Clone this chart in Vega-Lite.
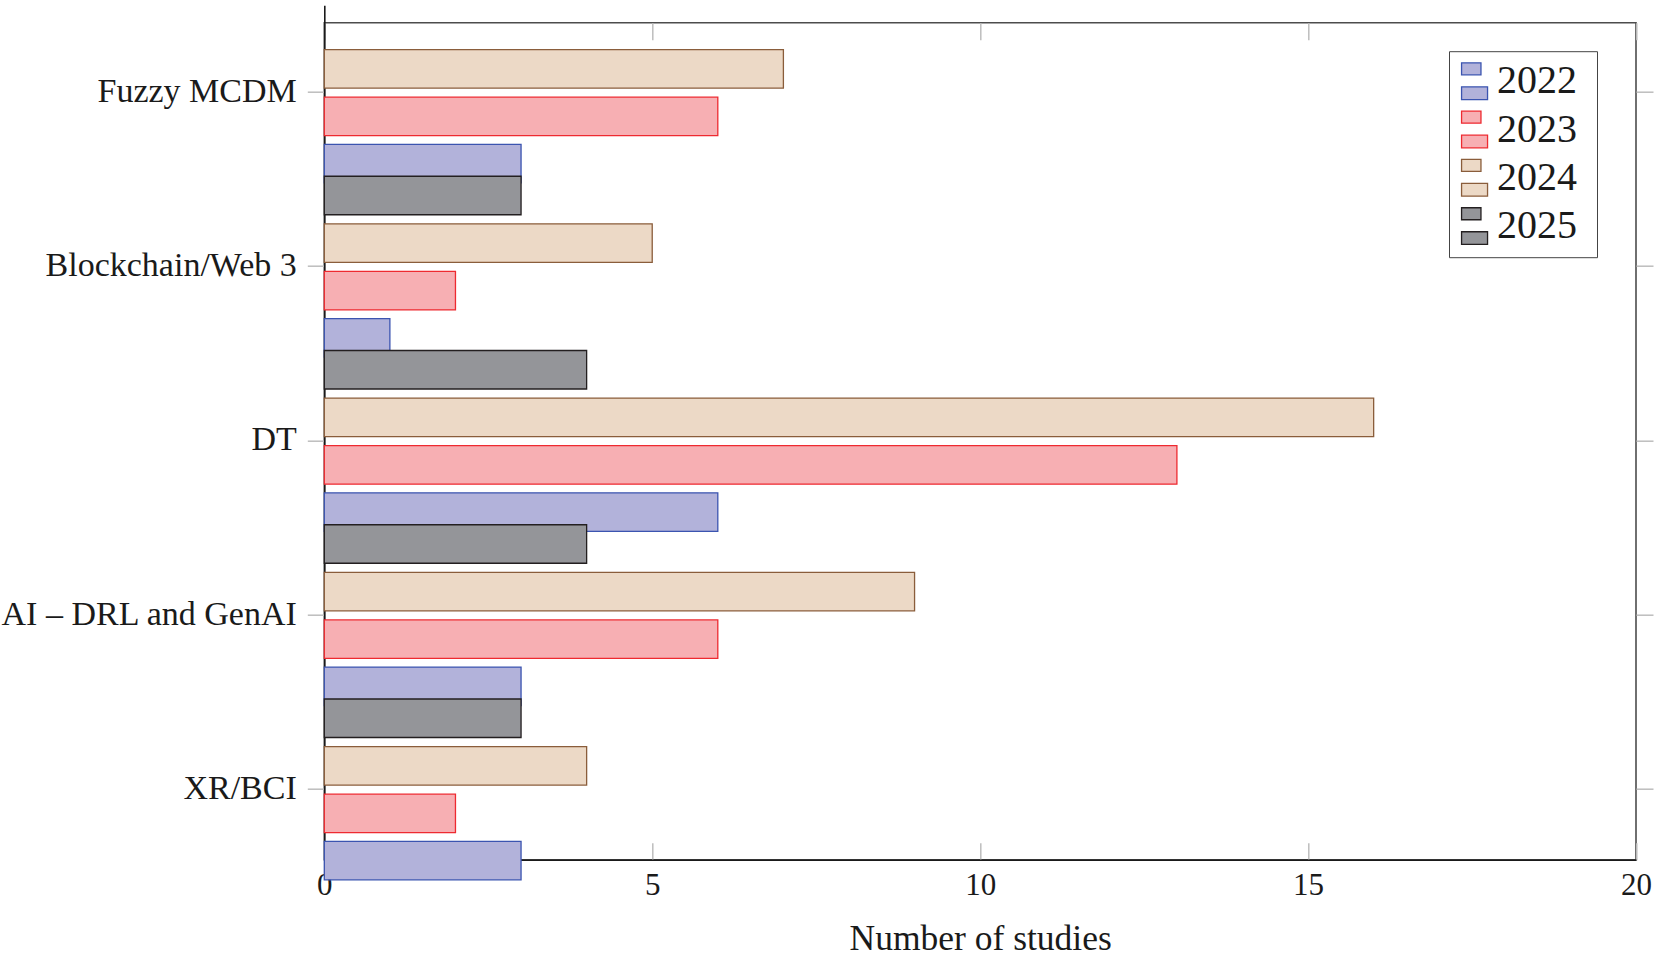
{
  "$schema": "https://vega.github.io/schema/vega-lite/v6.json",
  "width": 1311.7,
  "height": 837,
  "autosize": "none",
  "padding": {"left": 324.3, "top": 22.7, "right": 19, "bottom": 97.3},
  "background": "white",
  "config": {
    "font": "Liberation Serif",
    "view": {"stroke": "#4d4d4d", "strokeWidth": 1.6},
    "axis": {
      "labelFont": "Liberation Serif",
      "titleFont": "Liberation Serif",
      "labelColor": "#1a1a1a",
      "titleColor": "#1a1a1a",
      "grid": false,
      "tickColor": "#bdbdbd",
      "tickWidth": 1.5,
      "domainColor": "#1a1a1a",
      "domainWidth": 1.6
    },
    "legend": {
      "orient": "none",
      "legendX": 1124.7,
      "legendY": 28.5,
      "labelFont": "Liberation Serif",
      "labelFontSize": 40,
      "labelColor": "#1a1a1a",
      "symbolType": "M-0.95,-1H0.107V-0.346H-0.95Z M-0.95,0.308H0.466V1H-0.95Z",
      "symbolSize": 1347,
      "symbolStrokeWidth": 1.3,
      "labelOffset": -2,
      "rowPadding": 6.3,
      "padding": 10,
      "strokeColor": "#444444",
      "fillColor": "white"
    }
  },
  "datasets": {
    "studies": [
      {"topic": "Fuzzy MCDM", "year": 2022, "studies": 3},
      {"topic": "Blockchain/Web 3", "year": 2022, "studies": 1},
      {"topic": "DT", "year": 2022, "studies": 6},
      {"topic": "AI – DRL and GenAI", "year": 2022, "studies": 3},
      {"topic": "XR/BCI", "year": 2022, "studies": 3},
      {"topic": "Fuzzy MCDM", "year": 2023, "studies": 6},
      {"topic": "Blockchain/Web 3", "year": 2023, "studies": 2},
      {"topic": "DT", "year": 2023, "studies": 13},
      {"topic": "AI – DRL and GenAI", "year": 2023, "studies": 6},
      {"topic": "XR/BCI", "year": 2023, "studies": 2},
      {"topic": "Fuzzy MCDM", "year": 2024, "studies": 7},
      {"topic": "Blockchain/Web 3", "year": 2024, "studies": 5},
      {"topic": "DT", "year": 2024, "studies": 16},
      {"topic": "AI – DRL and GenAI", "year": 2024, "studies": 9},
      {"topic": "XR/BCI", "year": 2024, "studies": 4},
      {"topic": "Fuzzy MCDM", "year": 2025, "studies": 3},
      {"topic": "Blockchain/Web 3", "year": 2025, "studies": 4},
      {"topic": "DT", "year": 2025, "studies": 4},
      {"topic": "AI – DRL and GenAI", "year": 2025, "studies": 3}
    ]
  },
  "layer": [
    {
      "data": {"name": "studies"},
      "mark": {"type": "bar", "height": 38.5, "strokeWidth": 1.3, "opacity": 1},
      "encoding": {
        "y": {
          "field": "topic",
          "type": "nominal",
          "scale": {
            "domain": ["Fuzzy MCDM", "Blockchain/Web 3", "DT", "AI – DRL and GenAI", "XR/BCI"],
            "range": [-17.5, 853.75],
            "paddingInner": 0,
            "paddingOuter": 0
          },
          "axis": {
            "orient": "left",
            "title": null,
            "labelFontSize": 34,
            "labelLimit": 400,
            "labelPadding": 11,
            "labelOffset": -0.5,
            "tickSize": 17,
            "domain": true
          }
        },
        "yOffset": {
          "field": "year",
          "type": "quantitative",
          "scale": {
            "type": "linear",
            "domain": [2022, 2023, 2024, 2025],
            "range": [158.4, 111.2, 63.6, 190.3],
            "zero": false,
            "nice": false
          }
        },
        "x": {
          "field": "studies",
          "type": "quantitative",
          "scale": {"domain": [0, 20], "nice": false},
          "axis": {
            "orient": "bottom",
            "values": [0, 5, 10, 15, 20],
            "tickSize": -17,
            "labelPadding": 28,
            "labelFlush": false,
            "labelFontSize": 31,
            "title": "Number of studies",
            "titleFontSize": 35.5,
            "titleFontWeight": "normal",
            "titleBaseline": "alphabetic",
            "titleY": 90,
            "domain": true
          }
        },
        "color": {
          "field": "year",
          "type": "nominal",
          "title": null,
          "legend": {"labelExpr": "datum.label + '\u00a0\u200b'"},
          "scale": {
            "domain": [2022, 2023, 2024, 2025],
            "range": ["#b2b2da", "#f7afb3", "#ecd9c6", "#949599"]
          }
        },
        "stroke": {
          "field": "year",
          "type": "nominal",
          "title": null,
          "legend": {"labelExpr": "datum.label + '\u00a0\u200b'"},
          "scale": {
            "domain": [2022, 2023, 2024, 2025],
            "range": ["#3b54b0", "#ee2a30", "#8a5d3b", "#231f20"]
          }
        }
      }
    },
    {
      "data": {"name": "studies"},
      "transform": [{"filter": "false"}],
      "mark": {"type": "bar"},
      "encoding": {
        "y": {
          "field": "topic",
          "type": "nominal",
          "axis": {"orient": "right", "labels": false, "title": null, "domain": false, "tickSize": 17}
        },
        "x": {
          "field": "studies",
          "type": "quantitative",
          "axis": {"orient": "top", "labels": false, "title": null, "domain": false, "tickSize": -17, "values": [0, 5, 10, 15, 20]}
        }
      }
    }
  ]
}
